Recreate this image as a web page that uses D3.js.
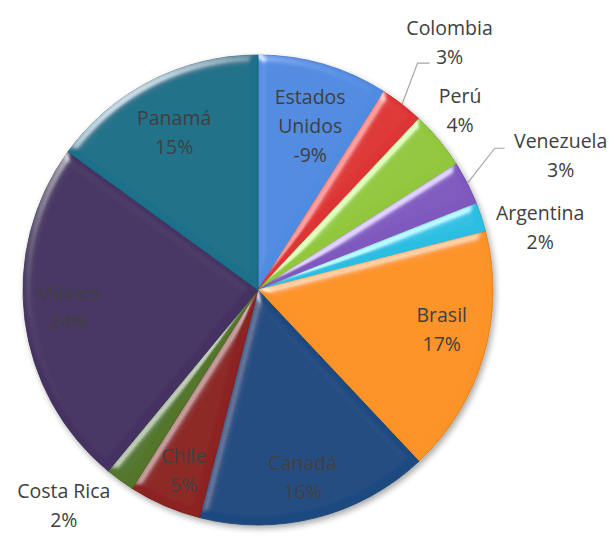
<!DOCTYPE html>
<html>
<head>
<meta charset="utf-8">
<script src="https://cdn.jsdelivr.net/npm/d3@7"></script>
<style>
  body { margin: 0; background: #fff; }
  text { font-family: "Open Sans", "Noto Sans", sans-serif; font-size: 19.5px; fill: #404040; }
</style>
</head>
<body>
<div id="chart"></div>
<script>
var paises = ["Estados Unidos", "Colombia", "Perú", "Venezuela", "Argentina", "Brasil",
    "Canadá", "Chile", "Costa Rica", "México", "Panamá"];
var valores = [-9, 3, 4, 3, 2, 17, 16, 5, 2, 24, 15];

var colores = ["#4f8be0", "#dd3534", "#92c73d", "#7f59be", "#2cbfe2", "#fb9325",
    "#1f4a80", "#8c2321", "#52762a", "#453363", "#1b7089"];

// where each label goes: distance from centre (x radius), angle nudge (deg), leader line
var etiquetas = [
    {d: 0.73, a: 1.5, lineas: ["Estados", "Unidos"]},
    {d: 1.33, a: 0, guia: [[-32, 20], [-20, 20]]},
    {d: 1.15, a: -2},
    {d: 1.41, a: 3, guia: [[-66, -7], [-56, -7]]},
    {d: 1.23, a: 5.5},
    {d: 0.8, a: -4},
    {d: 0.82, a: 1},
    {d: 0.83, a: -1},
    {d: 1.235, a: 6},
    {d: 0.81, a: 2},
    {d: 0.76, a: -1}
];

var w = 614, h = 536, cx = 258, cy = 290, r = 235;

var svg = d3.select("#chart")
    .append("svg")
    .attr("width", w)
    .attr("height", h);

var defs = svg.append("defs");
var f = defs.append("filter").attr("id", "bevel")
    .attr("x", "-5%").attr("y", "-5%").attr("width", "110%").attr("height", "110%");
f.append("feGaussianBlur").attr("in", "SourceAlpha").attr("stdDeviation", 4).attr("result", "blur");
f.append("feSpecularLighting").attr("in", "blur").attr("surfaceScale", 4)
    .attr("specularConstant", 0.7).attr("specularExponent", 30)
    .attr("lighting-color", "#ffffff").attr("result", "spec")
    .append("feDistantLight").attr("azimuth", 235).attr("elevation", 30);
f.append("feComposite").attr("in", "spec").attr("in2", "SourceAlpha")
    .attr("operator", "in").attr("result", "specOut");
f.append("feComposite").attr("in", "SourceGraphic").attr("in2", "specOut")
    .attr("operator", "arithmetic").attr("k1", 0).attr("k2", 1).attr("k3", 0.8).attr("k4", 0);

var sombra = defs.append("filter").attr("id", "sombra")
    .attr("x", "-10%").attr("y", "-10%").attr("width", "120%").attr("height", "120%");
sombra.append("feGaussianBlur").attr("in", "SourceAlpha").attr("stdDeviation", 3).attr("result", "b");
sombra.append("feOffset").attr("in", "b").attr("dx", 2).attr("dy", 3).attr("result", "o");
sombra.append("feComponentTransfer").attr("in", "o").attr("result", "o2")
    .append("feFuncA").attr("type", "linear").attr("slope", 0.35);
var m = sombra.append("feMerge");
m.append("feMergeNode").attr("in", "o2");
m.append("feMergeNode").attr("in", "SourceGraphic");

var color = d3.scaleOrdinal().domain(paises).range(colores);

var pie = d3.pie()
    .sort(null)
    .value(function (d, i) { return Math.abs(valores[i]); });

var arcos = pie(paises);
var arc = d3.arc().innerRadius(0).outerRadius(r);

var g = svg.append("g")
    .attr("transform", "translate(" + cx + "," + cy + ")");

var gp = g.append("g").attr("filter", "url(#sombra)");
gp.selectAll("path")
    .data(arcos)
    .enter()
    .append("path")
    .attr("d", arc)
    .style("fill", function (d) { return color(d.data); })
    .style("stroke", function (d) { return d3.color(color(d.data)).darker(0.5); })
    .style("stroke-width", 0.8)
    .attr("filter", "url(#bevel)");

function punto(d, k, extra) {
    var a = (d.startAngle + d.endAngle) / 2 + (extra || 0) * Math.PI / 180;
    return [Math.sin(a) * r * k, -Math.cos(a) * r * k];
}

var lh = 29;
arcos.forEach(function (d, i) {
    var e = etiquetas[i];
    var p = punto(d, e.d, e.a);
    var lineas = (e.lineas || [paises[i]]).concat([valores[i] + "%"]);
    var t = g.append("text")
        .attr("text-anchor", "middle");
    lineas.forEach(function (s, j) {
        t.append("tspan")
            .attr("x", p[0])
            .attr("y", p[1] + (j - (lineas.length - 1) / 2) * lh)
            .attr("dy", "0.35em")
            .text(s);
    });
    if (e.guia) {
        var p0 = punto(d, 1.0);
        var pts = [p0].concat(e.guia.map(function (o) { return [p[0] + o[0], p[1] + o[1]]; }));
        g.append("path")
            .attr("d", d3.line()(pts))
            .style("fill", "none")
            .style("stroke", "#a6a6a6")
            .style("stroke-width", 1.2);
    }
});
</script>
</body>
</html>
